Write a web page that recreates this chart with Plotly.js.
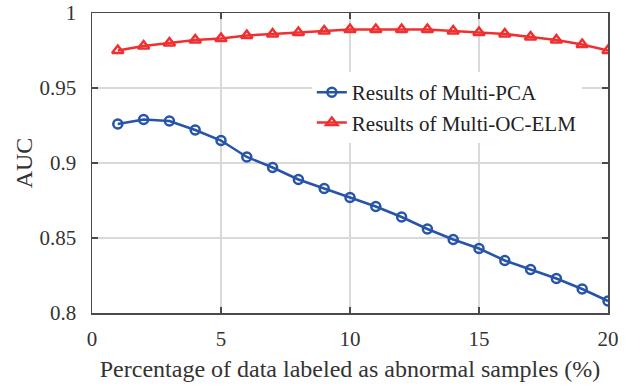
<!DOCTYPE html>
<html>
<head>
<meta charset="utf-8">
<script src="https://cdn.plot.ly/plotly-3.0.1.min.js"></script>
<style>html,body{margin:0;padding:0;background:#fff;}#chart{width:637px;height:385px;}</style>
</head>
<body>
<div id="chart"></div>
<script>
const xPercent = [1,2,3,4,5,6,7,8,9,10,11,12,13,14,15,16,17,18,19,20];
const aucMultiPCA = [0.926,0.929,0.928,0.922,0.915,0.904,0.897,0.889,0.883,0.877,0.871,0.864,0.856,0.849,0.843,0.835,0.829,0.823,0.816,0.808];
const aucMultiOCELM = [0.975,0.978,0.980,0.982,0.983,0.985,0.986,0.987,0.988,0.989,0.989,0.989,0.989,0.988,0.987,0.986,0.984,0.982,0.979,0.975];
const seriesNames = ['Results of Multi-PCA','Results of Multi-OC-ELM'];
const xTicks = [0,5,10,15,20];
const yTicks = [0.8,0.85,0.9,0.95,1];
const yTickLabels = ['0.8','0.85','0.9','0.95','1'];

const font = '"Liberation Serif", "Times New Roman", serif';
const traces = [
  {x: xPercent, y: aucMultiPCA, name: seriesNames[0], type: 'scatter', mode: 'lines+markers',
   line: {color: '#2554a8', width: 2.5},
   marker: {symbol: 'circle-open', size: 9, color: '#2554a8', line: {width: 2.5, color: '#2554a8'}}},
  {x: xPercent, y: aucMultiOCELM, name: seriesNames[1], type: 'scatter', mode: 'lines+markers',
   line: {color: '#f03030', width: 2.5},
   marker: {symbol: 'triangle-up-open', size: 10, color: '#f03030', line: {width: 2.5, color: '#f03030'}}}
];
const axisCommon = {
  showline: true, linecolor: '#4a4a4a', linewidth: 1.5, mirror: 'ticks',
  ticks: 'inside', ticklen: 6, tickcolor: '#4a4a4a', tickwidth: 1.5,
  showgrid: true, gridcolor: '#d9d9d9', gridwidth: 1.5, zeroline: false,
  tickfont: {family: font, size: 21, color: '#333'}
};
const layout = {
  width: 637, height: 385,
  margin: {l: 92, r: 29, t: 13, b: 72},
  paper_bgcolor: '#fff', plot_bgcolor: '#fff',
  showlegend: true,
  legend: {x: 0.426, y: 0.803, xanchor: 'left', yanchor: 'top', bgcolor: 'rgba(255,255,255,1)',
           borderwidth: 0, font: {family: font, size: 21, color: '#222'}, tracegroupgap: 0},
  xaxis: Object.assign({}, axisCommon, {range: [0, 20], tickvals: xTicks, ticktext: xTicks.map(String),
    ticklabelstandoff: 6,
    title: {text: 'Percentage of data labeled as abnormal samples (%)', font: {family: font, size: 24, color: '#333'}, standoff: 10}}),
  yaxis: Object.assign({}, axisCommon, {range: [0.8, 1], tickvals: yTicks, ticktext: yTickLabels,
    ticklabelstandoff: 10,
    title: {text: 'AUC', font: {family: font, size: 24, color: '#333'}, standoff: 0}})
};
Plotly.newPlot('chart', traces, layout, {displayModeBar: false, staticPlot: true});
</script>
</body>
</html>
